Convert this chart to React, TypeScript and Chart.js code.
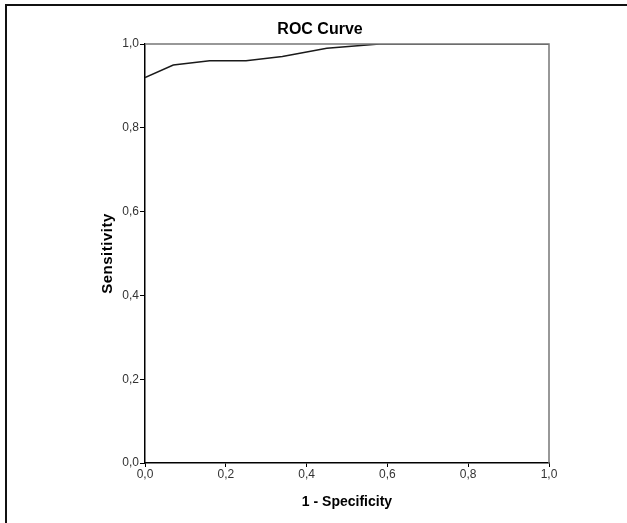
import React, { useEffect, useRef } from "react";
import { Chart, registerables } from "chart.js";

Chart.register(...registerables);

const specificityComplement = [0, 0.07, 0.16, 0.25, 0.34, 0.45, 0.58, 1.0];
const sensitivity = [0.92, 0.95, 0.96, 0.96, 0.97, 0.99, 1.0, 1.0];
const tickValues = [0, 0.2, 0.4, 0.6, 0.8, 1.0];
const chartTitle = "ROC Curve";
const xTitle = "1 - Specificity";
const yTitle = "Sensitivity";

const FONT = "'Liberation Sans', Arial, sans-serif";

const fmt = (v: number) => v.toFixed(1).replace(".", ",");

const decorPlugin = {
  id: "decor",
  beforeDraw(chart: any) {
    const ctx = chart.ctx;
    ctx.save();
    ctx.fillStyle = "#ffffff";
    ctx.fillRect(0, 0, chart.width, chart.height);
    ctx.restore();
  },
  afterDraw(chart: any) {
    const ctx = chart.ctx;
    const a = chart.chartArea;
    ctx.save();
    // outer frame
    ctx.strokeStyle = "#111";
    ctx.lineWidth = 2;
    ctx.beginPath();
    ctx.moveTo(6, chart.height);
    ctx.lineTo(6, 5);
    ctx.lineTo(chart.width, 5);
    ctx.stroke();
    // top/right plot border
    ctx.strokeStyle = "#777";
    ctx.lineWidth = 1.5;
    ctx.beginPath();
    ctx.moveTo(a.left, a.top);
    ctx.lineTo(a.right, a.top);
    ctx.lineTo(a.right, a.bottom);
    ctx.stroke();
    // title
    ctx.fillStyle = "#000";
    ctx.textAlign = "center";
    ctx.textBaseline = "middle";
    ctx.font = `bold 16px ${FONT}`;
    ctx.fillText(chartTitle, 320, 30);
    // axis titles
    ctx.font = `bold 14px ${FONT}`;
    ctx.fillText(xTitle, (a.left + a.right) / 2, 502);
    ctx.save();
    ctx.translate(108, (a.top + a.bottom) / 2);
    ctx.rotate(-Math.PI / 2);
    ctx.font = `bold 15px ${FONT}`;
    (ctx as any).letterSpacing = "0.5px";
    ctx.fillText(yTitle, 0, 0);
    ctx.restore();
    ctx.restore();
  },
};

export default function App() {
  const ref = useRef<HTMLCanvasElement | null>(null);
  useEffect(() => {
    if (!ref.current) return;
    const chart = new Chart(ref.current, {
      type: "line",
      data: {
        datasets: [
          {
            data: specificityComplement.map((x, i) => ({ x, y: sensitivity[i] })),
            borderColor: "#1a1a1a",
            borderWidth: 1.5,
            pointRadius: 0,
            tension: 0,
            fill: false,
          },
        ],
      },
      options: {
        responsive: false,
        animation: false,
        layout: { padding: { left: 0, top: 44, right: 78, bottom: 0 } },
        plugins: {
          legend: { display: false },
          title: { display: false },
          tooltip: { enabled: false },
        },
        scales: {
          x: {
            type: "linear",
            min: 0,
            max: 1,
            afterFit: (s: any) => {
              s.height = 60;
            },
            afterBuildTicks: (s: any) => {
              s.ticks = tickValues.map((v) => ({ value: v }));
            },
            border: { color: "#000", width: 1.5 },
            grid: { drawOnChartArea: false, drawTicks: true, tickLength: 4, color: "#000", lineWidth: 1 },
            ticks: {
              padding: 0,
              color: "#333",
              font: { family: FONT, size: 12 },
              callback: (v: any) => fmt(Number(v)),
              maxRotation: 0,
            },
          },
          y: {
            type: "linear",
            min: 0,
            max: 1,
            afterFit: (s: any) => {
              s.width = 145;
            },
            afterBuildTicks: (s: any) => {
              s.ticks = tickValues.map((v) => ({ value: v }));
            },
            border: { color: "#000", width: 1.5 },
            grid: { drawOnChartArea: false, drawTicks: true, tickLength: 5, color: "#000", lineWidth: 1 },
            ticks: {
              padding: 1,
              color: "#333",
              font: { family: FONT, size: 12 },
              callback: (v: any) => fmt(Number(v)),
            },
          },
        },
      },
      plugins: [decorPlugin],
    } as any);
    return () => chart.destroy();
  }, []);
  return (
    <div style={{ position: "fixed", left: 0, top: 0, width: 627, height: 523, background: "#fff" }}>
      <canvas ref={ref} width={627} height={523} style={{ display: "block" }} />
    </div>
  );
}
